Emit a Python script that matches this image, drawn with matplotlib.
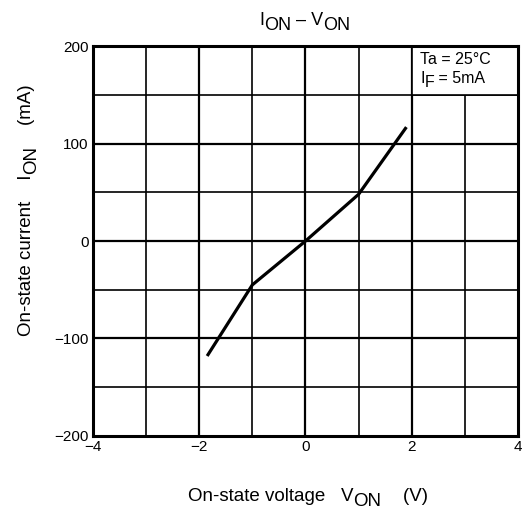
import matplotlib
matplotlib.use('Agg')
import matplotlib.pyplot as plt
from matplotlib.patches import Rectangle
import numpy as np

plt.rcParams['font.family'] = ['Liberation Sans', 'DejaVu Sans']

##### Data

v_on = [-1.85, -1.0, 0.0, 1.0, 1.9]
i_on = [-118, -45, 0, 48, 117]

x_ticks = [-4, -2, 0, 2, 4]
y_ticks = [-200, -100, 0, 100, 200]
x_labels = ['\u22124', '\u22122', '0', '2', '4']
y_labels = ['\u2212200', '\u2212100', '0', '100', '200']

W, H = 528, 514
fig = plt.figure(figsize=(W / 100, H / 100), dpi=100)
ax = fig.add_axes([0.176, 0.152, 0.805, 0.758])

ax.set_xlim(-4, 4)
ax.set_ylim(-200, 200)


def sub_text(x, y, parts, size, rotation=0, transform=None):
    # text with full size subscripts, parts = [(string, is_subscript), ...]
    # x, y = left/bottom (or right/bottom when rotated) of the first part
    drop = size * 0.27
    if transform is None:
        transform = fig.transFigure
    vert = rotation == 90
    first = fig.text(x, y, parts[0][0], fontsize=size, transform=transform,
                     rotation=rotation, ha='right' if vert else 'left', va='bottom')
    prev = first
    for s, is_sub in parts[1:]:
        d = drop if is_sub else 0
        if vert:
            prev = ax.annotate(s, xy=(1, 1), xycoords=(first, prev), xytext=(d, 0),
                               textcoords='offset points', fontsize=size, rotation=90,
                               ha='right', va='bottom', annotation_clip=False)
        else:
            prev = ax.annotate(s, xy=(1, 0), xycoords=(prev, first), xytext=(0, -d),
                               textcoords='offset points', fontsize=size,
                               ha='left', va='bottom', annotation_clip=False)
    return first


##### Grid, labelled lines a bit heavier

for x in np.arange(-3, 4, 1):
    lw = 1.6 if x % 2 == 0 else 1.2
    ax.axvline(x, color='black', lw=lw, zorder=1)
for y in np.arange(-150, 200, 50):
    lw = 1.6 if y % 100 == 0 else 1.2
    ax.axhline(y, color='black', lw=lw, zorder=1)

ax.plot(v_on, i_on, color='black', lw=2.3, solid_capstyle='butt', zorder=3)

# condition box in the top right cells
ax.add_patch(Rectangle((2, 150), 2, 50, facecolor='white', edgecolor='black',
                       lw=1.2, zorder=2))
ax.text(2.15, 182, 'Ta = 25\u00b0C', fontsize=11.5, va='baseline', ha='left', zorder=4)
sub_text(420 / W, 1 - 86 / H, [('I', False), ('F', True), (' = 5mA', False)], 11.5)

ax.set_xticks(x_ticks)
ax.set_xticklabels(x_labels)
ax.set_yticks(y_ticks)
ax.set_yticklabels(y_labels)
ax.tick_params(length=0, labelsize=11)
ax.tick_params(axis='x', pad=3)
ax.tick_params(axis='y', pad=3)

for s in ax.spines.values():
    s.set_linewidth(2.2)
    s.set_zorder(5)

##### Title and axis labels

sub_text(259 / W, 1 - 29 / H, [('I', False), ('ON', True), (' \u2013 V', False), ('ON', True)], 13)
sub_text(188 / W, 1 - 505 / H,
         [('On-state voltage   V', False), ('ON', True), ('    (V)', False)], 13.5)
sub_text(35 / W, 1 - 336 / H,
         [('On-state current    I', False), ('ON', True), ('    (mA)', False)], 13.5,
         rotation=90)

fig.savefig('out.png', dpi=100)
